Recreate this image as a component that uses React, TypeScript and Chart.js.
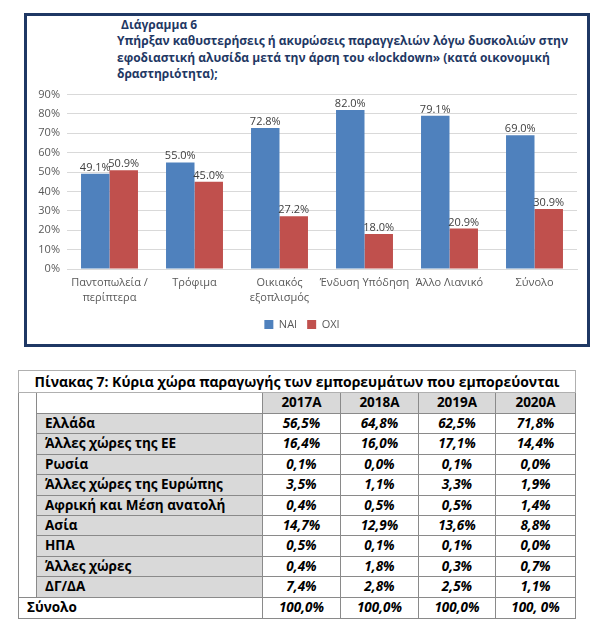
import React, { useEffect, useRef } from "react";
import { Chart, registerables } from "chart.js";

Chart.register(...registerables);

// ---------- Chart data ----------
const chartTitleLines = [
  "Διάγραμμα 6",
  "Υπήρξαν καθυστερήσεις ή ακυρώσεις παραγγελιών λόγω δυσκολιών στην",
  "εφοδιαστική αλυσίδα μετά την άρση του «lockdown» (κατά οικονομική",
  "δραστηριότητα);",
];
const categories: (string | string[])[] = [
  ["Παντοπωλεία /", "περίπτερα"],
  "Τρόφιμα",
  ["Οικιακός", "εξοπλισμός"],
  "Ένδυση Υπόδηση",
  "Άλλο Λιανικό",
  "Σύνολο",
];
const seriesNames = ["ΝΑΙ", "ΟΧΙ"];
const naiValues = [49.1, 55.0, 72.8, 82.0, 79.1, 69.0];
const oxiValues = [50.9, 45.0, 27.2, 18.0, 20.9, 30.9];
const yMax = 90;
const yStep = 10;

// ---------- Table data ----------
const tableTitle = "Πίνακας 7: Κύρια χώρα παραγωγής των εμπορευμάτων που εμπορεύονται";
const tableYears = ["2017Α", "2018Α", "2019Α", "2020Α"];
const countries = [
  "Ελλάδα",
  "Άλλες χώρες της ΕΕ",
  "Ρωσία",
  "Άλλες χώρες της Ευρώπης",
  "Αφρική και Μέση ανατολή",
  "Ασία",
  "ΗΠΑ",
  "Άλλες χώρες",
  "ΔΓ/ΔΑ",
];
const values2017 = ["56,5%", "16,4%", "0,1%", "3,5%", "0,4%", "14,7%", "0,5%", "0,4%", "7,4%"];
const values2018 = ["64,8%", "16,0%", "0,0%", "1,1%", "0,5%", "12,9%", "0,1%", "1,8%", "2,8%"];
const values2019 = ["62,5%", "17,1%", "0,1%", "3,3%", "0,5%", "13,6%", "0,1%", "0,3%", "2,5%"];
const values2020 = ["71,8%", "14,4%", "0,0%", "1,9%", "1,4%", "8,8%", "0,0%", "0,7%", "1,1%"];
const totalLabel = "Σύνολο";
const totals = ["100,0%", "100,0%", "100,0%", "100, 0%"];

const FONT = '"Open Sans", "Noto Sans", sans-serif';
const NAVY = "#1f3864";

const valueLabelPlugin = {
  id: "valueLabels",
  afterDatasetsDraw(chart: any) {
    const ctx = chart.ctx;
    ctx.save();
    ctx.font = `11px ${FONT}`;
    ctx.fillStyle = "#404040";
    ctx.textAlign = "center";
    ctx.textBaseline = "alphabetic";
    chart.data.datasets.forEach((ds: any, di: number) => {
      const meta = chart.getDatasetMeta(di);
      meta.data.forEach((bar: any, i: number) => {
        const v = ds.data[i] as number;
        ctx.fillText(v.toFixed(1) + "%", bar.x, bar.y - 3);
      });
    });
    ctx.restore();
  },
};

function BarChart() {
  const ref = useRef<HTMLCanvasElement | null>(null);
  useEffect(() => {
    if (!ref.current) return;
    const chart = new Chart(ref.current, {
      type: "bar",
      data: {
        labels: categories as any,
        datasets: [
          {
            label: seriesNames[0],
            data: naiValues,
            backgroundColor: "#4f81bd",
            categoryPercentage: 0.67,
            barPercentage: 1,
          },
          {
            label: seriesNames[1],
            data: oxiValues,
            backgroundColor: "#c0504d",
            categoryPercentage: 0.67,
            barPercentage: 1,
          },
        ],
      },
      options: {
        animation: false,
        responsive: false,
        devicePixelRatio: 1,
        layout: { padding: { top: 9, right: 10, left: 0, bottom: 4 } },
        plugins: {
          title: { display: false },
          tooltip: { enabled: false },
          legend: {
            position: "bottom",
            labels: {
              boxWidth: 9,
              boxHeight: 9,
              padding: 10,
              color: "#595959",
              font: { family: FONT, size: 11 },
            },
          },
        },
        scales: {
          x: {
            grid: { display: false, drawTicks: false },
            border: { display: true, color: "#d9d9d9" },
            ticks: {
              color: "#595959",
              padding: 7,
              maxRotation: 0,
              autoSkip: false,
              font: { family: FONT, size: 11, lineHeight: 1.3 },
            },
            afterFit: (s: any) => {
              s.height = 40;
            },
          },
          y: {
            min: 0,
            max: yMax,
            grid: { color: "#d9d9d9", drawTicks: false },
            border: { display: false },
            ticks: {
              stepSize: yStep,
              padding: 7,
              color: "#595959",
              font: { family: FONT, size: 11 },
              callback: (v: any) => v + "%",
            },
            afterFit: (s: any) => {
              s.width = 40;
            },
          },
        },
      },
      plugins: [valueLabelPlugin],
    });
    return () => chart.destroy();
  }, []);
  return (
    <canvas
      ref={ref}
      width={560}
      height={263}
      style={{ position: "absolute", left: 27, top: 81, width: 560, height: 263 }}
    />
  );
}

const border = "1px solid #8a8a8a";
const grey = "#d9d9d9";

function DataTable() {
  const cols = [values2017, values2018, values2019, values2020];
  const cellBase: React.CSSProperties = {
    border,
    padding: 0,
    lineHeight: 1,
    verticalAlign: "middle",
  };
  const valCell: React.CSSProperties = {
    ...cellBase,
    textAlign: "center",
    fontStyle: "italic",
    background: "#fff",
  };
  return (
    <table
      style={{
        position: "absolute",
        left: 18,
        top: 370,
        width: 557,
        borderCollapse: "collapse",
        tableLayout: "fixed",
        fontFamily: FONT,
        fontWeight: 700,
        fontSize: 13.5,
        color: "#000",
      }}
    >
      <colgroup>
        <col style={{ width: 18 }} />
        <col style={{ width: 226 }} />
        <col style={{ width: 78 }} />
        <col style={{ width: 78 }} />
        <col style={{ width: 77 }} />
        <col style={{ width: 80 }} />
      </colgroup>
      <tbody>
        <tr style={{ height: 22 }}>
          <td colSpan={6} style={{ ...cellBase, border: "1px solid #b0b0b0", textAlign: "center", fontSize: 14 }}>
            {tableTitle}
          </td>
        </tr>
        <tr style={{ height: 21 }}>
          <td rowSpan={countries.length + 1} style={{ ...cellBase, borderBottom: border }} />
          <td style={{ ...cellBase, background: "#fff" }} />
          {tableYears.map((y) => (
            <td key={y} style={{ ...cellBase, background: grey, textAlign: "center" }}>
              {y}
            </td>
          ))}
        </tr>
        {countries.map((c, i) => (
          <tr key={c} style={{ height: 20.4 }}>
            <td style={{ ...cellBase, background: grey, paddingLeft: 8 }}>{c}</td>
            {cols.map((col, j) => (
              <td key={j} style={valCell}>
                {col[i]}
              </td>
            ))}
          </tr>
        ))}
        <tr style={{ height: 21 }}>
          <td colSpan={2} style={{ ...cellBase, paddingLeft: 8, background: "#fff" }}>
            {totalLabel}
          </td>
          {totals.map((t, j) => (
            <td key={j} style={valCell}>
              {t}
            </td>
          ))}
        </tr>
      </tbody>
    </table>
  );
}

export default function App() {
  return (
    <div style={{ position: "absolute", left: 0, top: 0, width: 607, height: 630, background: "#fff" }}>
      <div
        style={{
          position: "absolute",
          left: 24,
          top: 13,
          width: 566,
          height: 334,
          boxSizing: "border-box",
          border: `3px solid ${NAVY}`,
        }}
      />
      <div
        style={{
          position: "absolute",
          left: 117,
          top: 16.75,
          fontFamily: FONT,
          fontWeight: 700,
          fontSize: 12,
          lineHeight: "16.5px",
          color: NAVY,
          whiteSpace: "nowrap",
        }}
      >
        {chartTitleLines.map((l, i) => (
          <div key={i} style={{ paddingLeft: i === 0 ? 4 : 0 }}>
            {l}
          </div>
        ))}
      </div>
      <BarChart />
      <DataTable />
    </div>
  );
}
